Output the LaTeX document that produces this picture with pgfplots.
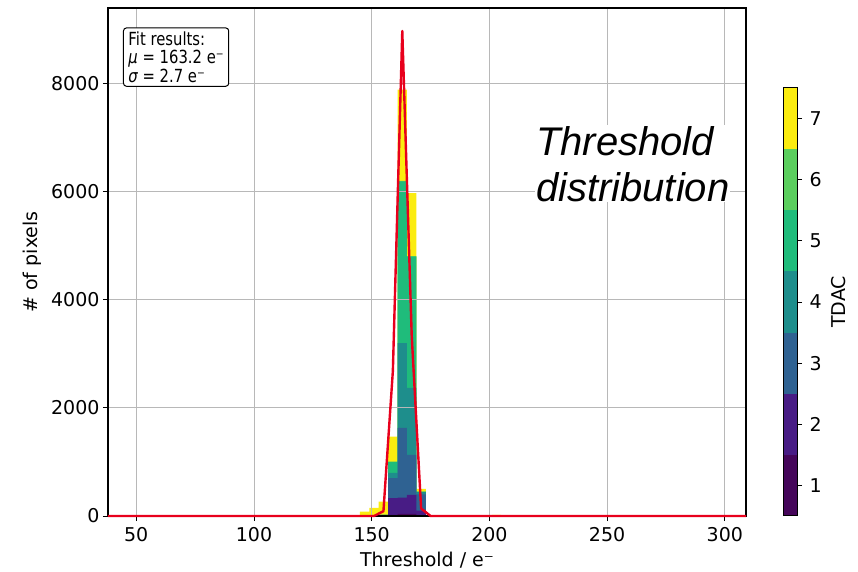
\documentclass[border=0pt]{standalone}
\usepackage{pgfplots}
\pgfplotsset{compat=1.18}
\usepackage{pgfplotstable}
\usepackage{fontspec}
\setmainfont{DejaVu Sans}
\newfontfamily\ovl{Liberation Sans}
\definecolor{c1}{HTML}{45065A}
\definecolor{c2}{HTML}{481C85}
\definecolor{c3}{HTML}{2F6292}
\definecolor{c4}{HTML}{1E8E8C}
\definecolor{c5}{HTML}{1FBC7B}
\definecolor{c6}{HTML}{5BCF5E}
\definecolor{c7}{HTML}{FBEC10}
\definecolor{fitred}{HTML}{E8001C}
\pgfplotstableread{
x   l1 l2  l3   l4   l5   l6   l7
145 0  0   0    0    0    0    80
149 0  0   0    0    0    0    150
153 0  10  20   20   20   20   265
157 20 330 700  800  1000 1005 1470
161 40 340 1630 3200 6190 6200 7890
165 40 390 1130 2370 4800 4810 5975
169 10 100 400  440  450  450  500
173 0  0   0    0    0    0    0
177 0  0   0    0    0    0    0
201 0  0   0    0    0    0    20
205 0  0   0    0    0    0    0
}\hist
\pgfplotsset{mainframe/.style={
  at={(0pt,0pt)}, anchor=south west,
  scale only axis, width=638pt, height=508pt,
  xmin=38, xmax=309, ymin=0, ymax=9400}}
\begin{document}
\begin{tikzpicture}
\useasboundingbox (-108pt,-56pt) rectangle (750pt,516pt);
% histogram layer
\begin{axis}[mainframe, hide axis]
\addplot[ybar interval, fill=c7, draw=none] table[x=x, y=l7] {\hist};
\addplot[ybar interval, fill=c6, draw=none] table[x=x, y=l6] {\hist};
\addplot[ybar interval, fill=c5, draw=none] table[x=x, y=l5] {\hist};
\addplot[ybar interval, fill=c4, draw=none] table[x=x, y=l4] {\hist};
\addplot[ybar interval, fill=c3, draw=none] table[x=x, y=l3] {\hist};
\addplot[ybar interval, fill=c2, draw=none] table[x=x, y=l2] {\hist};
\addplot[ybar interval, fill=c1, draw=none] table[x=x, y=l1] {\hist};
\end{axis}
% frame, grid, fit
\begin{axis}[
  mainframe,
  xtick={50,100,...,300}, ytick={0,2000,...,8000},
  grid=major, grid style={draw=black!28, line width=0.9pt},
  clip=false,
  tick align=outside, tick pos=left, major tick length=5pt,
  tick style={black, line width=0.9pt},
  axis line style={line width=1.1pt},
  ticklabel style={font=\fontsize{19}{22}\selectfont},
  xticklabel shift=3pt,
  /pgf/number format/assume math mode=true,
  /pgf/number format/1000 sep={},
  scaled y ticks=false, scaled x ticks=false,
  xlabel={Threshold / e⁻}, ylabel={\# of pixels},
  xlabel shift=3.5pt, ylabel shift=3pt,
  label style={font=\fontsize{19}{22}\selectfont},
]
\addplot[fitred, line width=2.4pt, line join=round] coordinates {
 (38,0) (151,0.3) (155,89) (159,2684) (163,8975) (167,3343) (171,139) (175,0.6) (309,0)
};
\node[draw, rounded corners=3pt, line width=1pt, align=left, anchor=north west,
      inner xsep=5pt, inner ysep=3pt, fill=white, yscale=1.22,
      font=\fontsize{14.8}{15.2}\selectfont]
  at (rel axis cs:0.0235,0.962)
  {Fit results:\\{\itshape μ} = 163.2 e⁻\\{\itshape σ} = 2.7 e⁻};
\node[anchor=north west, align=left, fill=white, inner sep=1pt,
      font=\ovl\itshape\fontsize{40}{46}\selectfont]
  at (rel axis cs:0.669,0.770) {Threshold\\distribution};
\end{axis}
% colour bar
\begin{axis}[
  at={(675pt,0pt)}, anchor=south west,
  scale only axis, width=14pt, height=428pt,
  xmin=0, xmax=1, ymin=0.5, ymax=7.5,
  xtick=\empty, ytick={1,...,7},
  yticklabel pos=right, ytick pos=right,
  tick align=outside, major tick length=5pt,
  tick style={black, line width=0.9pt},
  axis line style={line width=1pt},
  axis on top,
  ticklabel style={font=\fontsize{19}{22}\selectfont},
  yticklabel shift=4pt,
  /pgf/number format/assume math mode=true,
  ylabel={TDAC}, ylabel shift=3pt,
  label style={font=\fontsize{19}{22}\selectfont},
]
\addplot[fill=c7, draw=none] coordinates {(0,7.5) (1,7.5)} \closedcycle;
\addplot[fill=c6, draw=none] coordinates {(0,6.5) (1,6.5)} \closedcycle;
\addplot[fill=c5, draw=none] coordinates {(0,5.5) (1,5.5)} \closedcycle;
\addplot[fill=c4, draw=none] coordinates {(0,4.5) (1,4.5)} \closedcycle;
\addplot[fill=c3, draw=none] coordinates {(0,3.5) (1,3.5)} \closedcycle;
\addplot[fill=c2, draw=none] coordinates {(0,2.5) (1,2.5)} \closedcycle;
\addplot[fill=c1, draw=none] coordinates {(0,1.5) (1,1.5)} \closedcycle;
\end{axis}
\end{tikzpicture}
\end{document}
